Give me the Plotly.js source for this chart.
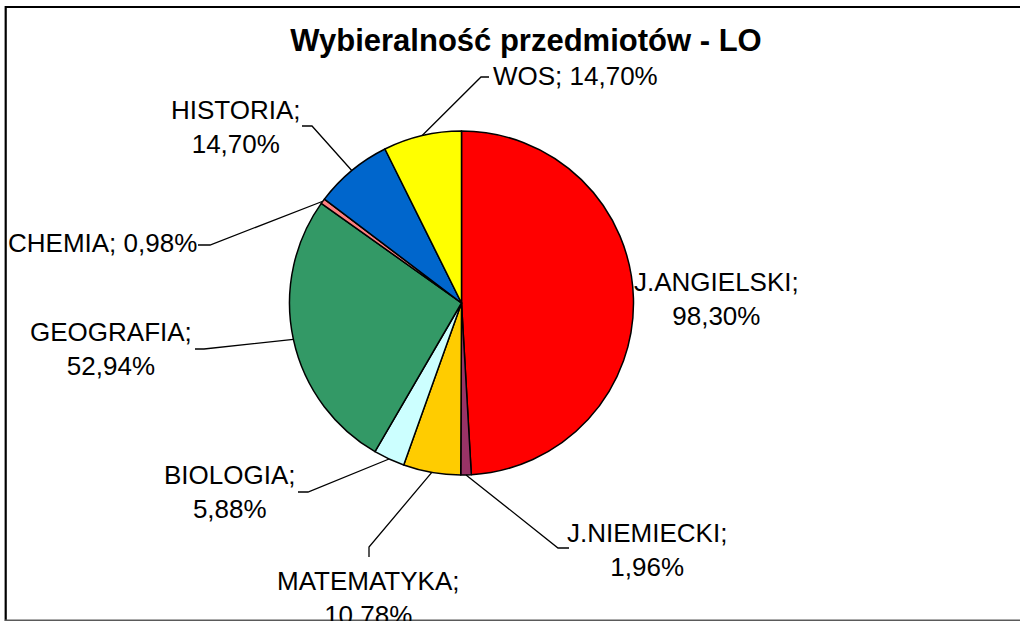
<!DOCTYPE html>
<html>
<head>
<meta charset="utf-8">
<script src="https://cdn.plot.ly/plotly-3.0.1.min.js"></script>
<style>html,body{margin:0;padding:0;background:#fff;}#chart{width:1020px;height:621px;}</style>
</head>
<body>
<div id="chart"></div>
<script>
// ---- data ----
const titleText = 'Wybieralność przedmiotów - LO';
const labels = ['J.ANGIELSKI', 'J.NIEMIECKI', 'MATEMATYKA', 'BIOLOGIA', 'GEOGRAFIA', 'CHEMIA', 'HISTORIA', 'WOS'];
const values = [98.30, 1.96, 10.78, 5.88, 52.94, 0.98, 14.70, 14.70];

// ---- style ----
const colors = ['#FF0000', '#993366', '#FFCC00', '#CCFFFF', '#339966', '#FF8080', '#0066CC', '#FFFF00'];
const W = 1020, H = 621;
const pie = {cx: 461.5, cy: 303, r: 172};
// label placement (pixels): text centre, two-line flag, leader elbow & end
const labelLayout = [
  {x: 716, y: 299, two: true, elbow: null, end: null},
  {x: 647, y: 550, two: true, elbow: [558, 548], end: [569, 548]},
  {x: 368, y: 598, two: true, elbow: [369, 547], end: [369, 557]},
  {x: 230, y: 492, two: true, elbow: [308, 492], end: [298, 492]},
  {x: 110.5, y: 349, two: true, elbow: [204, 349], end: [195, 349]},
  {x: 102, y: 243, two: false, elbow: [210, 245], end: [198, 245]},
  {x: 236, y: 127, two: true, elbow: [312, 126], end: [302, 126]},
  {x: 575, y: 76, two: false, elbow: [481, 77], end: [489, 77]}
];
const FONT = 'Liberation Sans, Arial, sans-serif';

const px = x => x / W;
const py = y => 1 - y / H;

const total = values.reduce((a, b) => a + b, 0);
const annotations = [];
const shapes = [];
let cum = 0;
values.forEach((v, i) => {
  const mid = (cum + v / 2) / total * 2 * Math.PI;
  cum += v;
  const sx = pie.cx + pie.r * Math.sin(mid);
  const sy = pie.cy - pie.r * Math.cos(mid);
  const L = labelLayout[i];
  const valTxt = v.toFixed(2).replace('.', ',') + '%';
  annotations.push({
    xref: 'paper', yref: 'paper', x: px(L.x), y: py(L.y),
    xanchor: 'center', yanchor: 'middle', showarrow: false,
    text: labels[i] + ';' + (L.two ? '<br>' : ' ') + valTxt,
    font: {family: FONT, size: 26, color: '#000'}, align: 'center'
  });
  if (L.elbow) {
    shapes.push({
      type: 'path', xref: 'paper', yref: 'paper',
      path: 'M ' + px(sx) + ',' + py(sy) + ' L ' + px(L.elbow[0]) + ',' + py(L.elbow[1]) + ' L ' + px(L.end[0]) + ',' + py(L.end[1]),
      line: {color: '#000', width: 1.3}
    });
  }
});

// chart frame
shapes.push({type: 'path', xref: 'paper', yref: 'paper',
  path: 'M ' + px(5.7) + ',' + py(640) + ' L ' + px(5.7) + ',' + py(7) + ' L ' + px(1040) + ',' + py(7),
  line: {color: '#000', width: 2.2}});
shapes.push({type: 'line', xref: 'paper', yref: 'paper',
  x0: px(5), x1: px(1040), y0: py(620.3), y1: py(620.3),
  line: {color: '#5a5a5a', width: 1.6}});

const trace = {
  type: 'pie',
  labels: labels,
  values: values,
  sort: false,
  direction: 'clockwise',
  rotation: 0,
  textinfo: 'none',
  hoverinfo: 'label+value',
  marker: {colors: colors, line: {color: '#000', width: 1.5}},
  domain: {x: [px(pie.cx - pie.r), px(pie.cx + pie.r)], y: [py(pie.cy + pie.r), py(pie.cy - pie.r)]},
  showlegend: false
};

const layout = {
  width: W, height: H,
  margin: {l: 0, r: 0, t: 0, b: 0},
  paper_bgcolor: '#fff',
  title: {text: titleText, x: px(526), y: py(40), xref: 'paper', yref: 'paper', xanchor: 'center', yanchor: 'middle',
    font: {family: FONT, size: 31, weight: 700, color: '#000'}},
  annotations: annotations,
  shapes: shapes,
  showlegend: false
};

Plotly.newPlot('chart', [trace], layout, {staticPlot: true});
</script>
</body>
</html>
